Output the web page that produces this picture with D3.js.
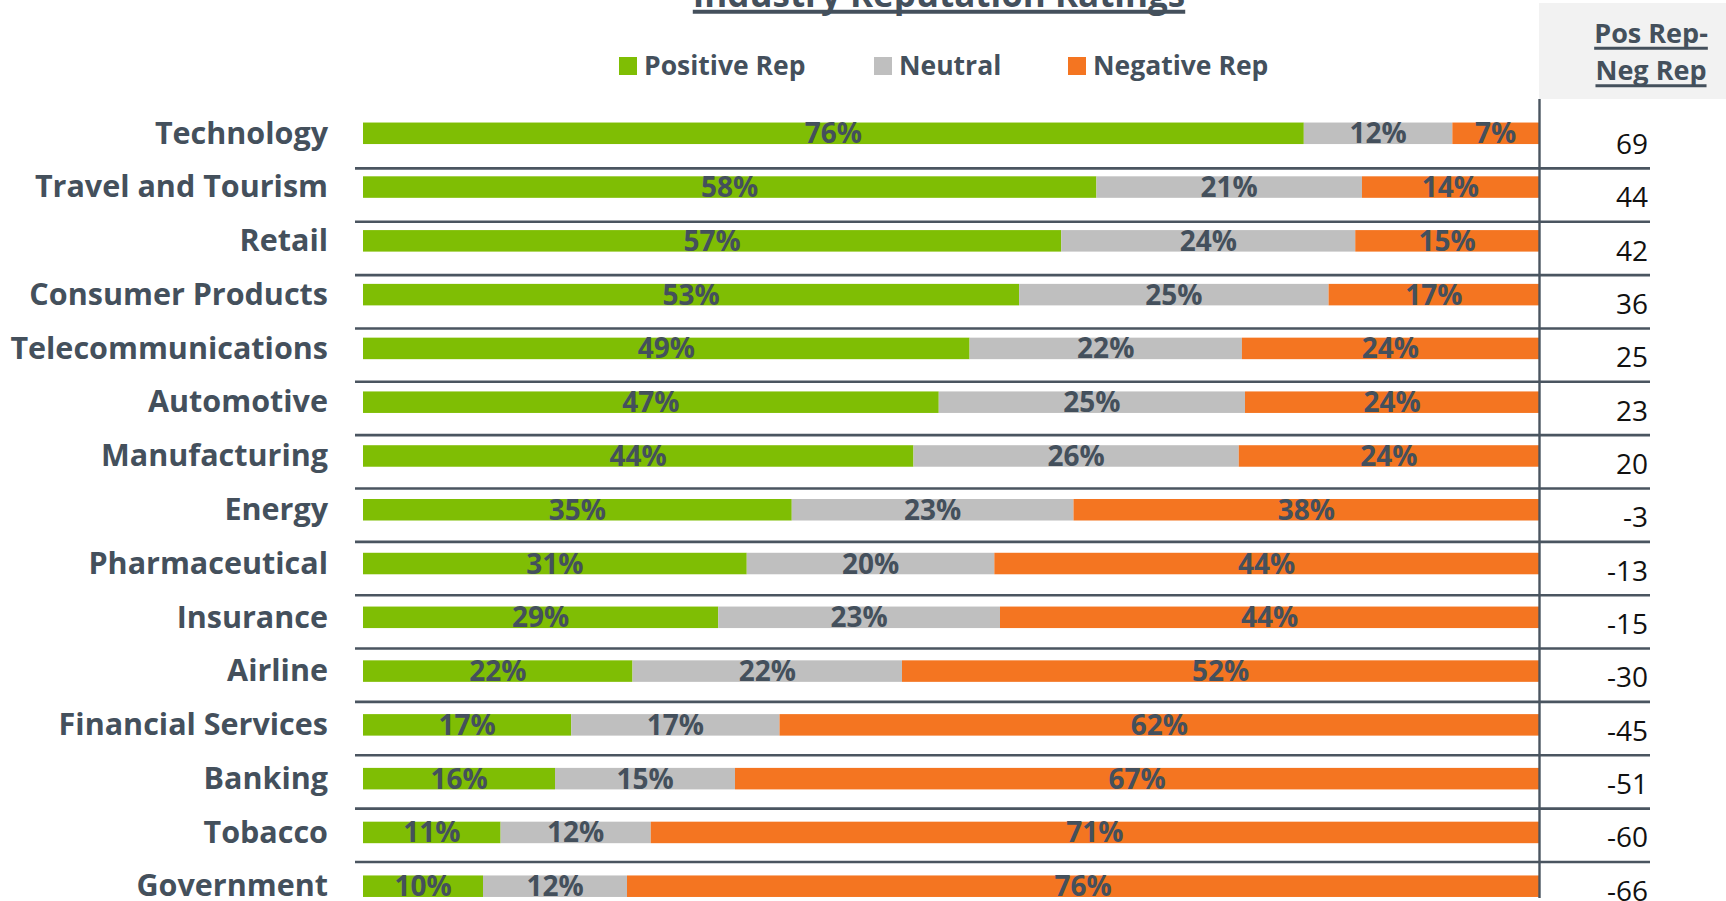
<!DOCTYPE html>
<html>
<head>
<meta charset="utf-8">
<script src="https://cdn.jsdelivr.net/npm/d3@7"></script>
<style>
    body { margin: 0; background: #fff; }
    svg { display: block; font-family: "Open Sans", sans-serif; }
</style>
</head>
<body>
<script>
var categories = ["Technology", "Travel and Tourism", "Retail", "Consumer Products", "Telecommunications",
    "Automotive", "Manufacturing", "Energy", "Pharmaceutical", "Insurance", "Airline",
    "Financial Services", "Banking", "Tobacco", "Government"];
var positiveRep = [76, 58, 57, 53, 49, 47, 44, 35, 31, 29, 22, 17, 16, 11, 10];
var neutralRep = [12, 21, 24, 25, 22, 25, 26, 23, 20, 23, 22, 17, 15, 12, 12];
var negativeRep = [7, 14, 15, 17, 24, 24, 24, 38, 44, 44, 52, 62, 67, 71, 76];
var netRep = [69, 44, 42, 36, 25, 23, 20, -3, -13, -15, -30, -45, -51, -60, -66];
var seriesNames = ["Positive Rep", "Neutral", "Negative Rep"];

var width = 1726,
    height = 901;
var textColor = "#44505c";

var svg = d3.select("body")
    .append("svg")
    .attr("width", width)
    .attr("height", height);

var data = categories.map(function(c, i) {
    var obj = { name: c };
    obj["Positive Rep"] = positiveRep[i];
    obj["Neutral"] = neutralRep[i];
    obj["Negative Rep"] = negativeRep[i];
    obj.total = positiveRep[i] + neutralRep[i] + negativeRep[i];
    return obj;
});

// each row is shown as 100% of its own total
var x = d3.scaleLinear()
    .domain([0, 1])
    .range([363, 1539]);

var y = d3.scaleBand()
    .domain(categories)
    .range([106.4, 913.1])
    .paddingInner(0.6)
    .paddingOuter(0.3);

// rows of the side table (separators + net numbers)
var rowY = d3.scaleBand()
    .domain(d3.range(categories.length))
    .range([115.05, 115.05 + 53.35 * categories.length]);

var z = d3.scaleOrdinal()
    .domain(seriesNames)
    .range(["#7fbe04", "#bfbfbf", "#f47521"]);

// gray header box for the table
svg.append("rect")
    .attr("x", 1539)
    .attr("y", 3)
    .attr("width", width - 1539)
    .attr("height", 96)
    .attr("fill", "#f2f2f2");

// separators
svg.append("g")
    .selectAll("line")
    .data(d3.range(categories.length - 1))
    .enter().append("line")
    .attr("x1", 355)
    .attr("x2", 1650)
    .attr("y1", function(d) { return rowY(d) + rowY.bandwidth(); })
    .attr("y2", function(d) { return rowY(d) + rowY.bandwidth(); })
    .attr("stroke", "#4a5560")
    .attr("stroke-width", 2.6);

var stacked = d3.stack().keys(seriesNames)
    .value(function(d, key) { return d[key] / d.total; })(data);

var layer = svg.append("g")
    .selectAll("g")
    .data(stacked)
    .enter().append("g")
    .attr("fill", function(d) { return z(d.key); });

layer.selectAll("rect")
    .data(function(d) { return d; })
    .enter().append("rect")
    .attr("x", function(d) { return x(d[0]); })
    .attr("y", function(d) { return y(d.data.name); })
    .attr("width", function(d) { return x(d[1]) - x(d[0]); })
    .attr("height", y.bandwidth());

layer.each(function(s) {
    d3.select(this).selectAll("text")
        .data(s)
        .enter().append("text")
        .attr("x", function(d) { return (x(d[0]) + x(d[1])) / 2; })
        .attr("y", function(d) { return y(d.data.name) + y.bandwidth() / 2 + 10; })
        .attr("text-anchor", "middle")
        .attr("fill", textColor)
        .attr("font-size", 28)
        .attr("font-weight", 700)
        .text(function(d) { return d.data[s.key] + "%"; });
});

// category labels
svg.append("g")
    .selectAll("text")
    .data(categories)
    .enter().append("text")
    .attr("x", 328)
    .attr("y", function(d) { return y(d) + y.bandwidth() - 0.5; })
    .attr("text-anchor", "end")
    .attr("fill", textColor)
    .attr("font-size", 30.5)
    .attr("font-weight", 700)
    .text(function(d) { return d; });

// vertical divider
svg.append("line")
    .attr("x1", 1539.5)
    .attr("x2", 1539.5)
    .attr("y1", 99)
    .attr("y2", 898)
    .attr("stroke", "#4a5560")
    .attr("stroke-width", 2.4);

// net numbers
svg.append("g")
    .selectAll("text")
    .data(netRep)
    .enter().append("text")
    .attr("x", 1648)
    .attr("y", function(d, i) { return rowY(i) + rowY.bandwidth() - 14.5; })
    .attr("text-anchor", "end")
    .attr("fill", "#111")
    .attr("font-size", 28)
    .text(function(d) { return d; });

// underlined text helper
function underlined(g, txt, cx, base, size, lineY, lineW) {
    var t = g.append("text")
        .attr("x", cx)
        .attr("y", base)
        .attr("text-anchor", "middle")
        .attr("fill", textColor)
        .attr("font-size", size)
        .attr("font-weight", 700)
        .text(txt);
    var bb = t.node().getBBox();
    g.append("line")
        .attr("x1", bb.x)
        .attr("x2", bb.x + bb.width)
        .attr("y1", lineY)
        .attr("y2", lineY)
        .attr("stroke", textColor)
        .attr("stroke-width", lineW);
}

var head = svg.append("g");
underlined(head, "Industry Reputation Ratings", 939, 7, 35, 11.7, 4);
underlined(head, "Pos Rep-", 1651, 43, 27, 48.3, 3);
underlined(head, "Neg Rep", 1651, 80, 27, 85.7, 3);

// legend
var legendX = [619, 874, 1068];
var legend = svg.append("g")
    .selectAll("g")
    .data(seriesNames)
    .enter().append("g")
    .attr("transform", function(d, i) { return "translate(" + legendX[i] + ",57)"; });

legend.append("rect")
    .attr("width", 18)
    .attr("height", 18)
    .attr("fill", z);

legend.append("text")
    .attr("x", 25)
    .attr("y", 18)
    .attr("fill", textColor)
    .attr("font-size", 26.5)
    .attr("font-weight", 700)
    .text(function(d) { return d; });
</script>
</body>
</html>
